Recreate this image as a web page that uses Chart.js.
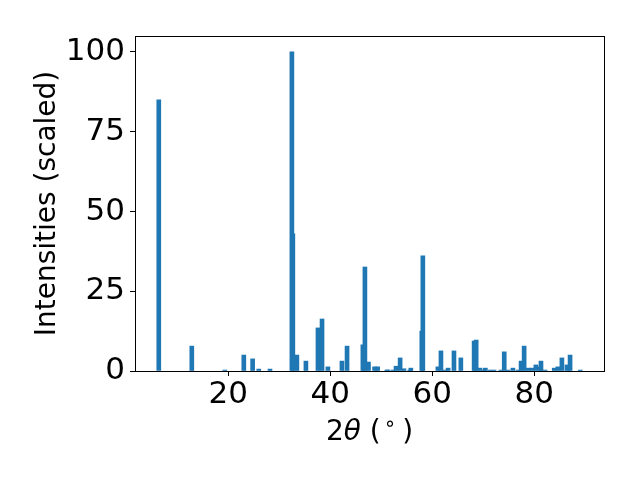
<!DOCTYPE html>
<html>
<head>
<meta charset="utf-8">
<script src="https://cdn.jsdelivr.net/npm/chart.js@4/dist/chart.umd.min.js"></script>
<style>
  body { margin: 0; background: #fff; }
  #wrap { width: 640px; height: 480px; }
</style>
</head>
<body>
<div id="wrap"><canvas id="xrd" width="640" height="480"></canvas></div>
<script>
// peak positions (2theta, degrees) and scaled intensities
// (order = drawing order; the 43 peak sits behind the 100 peak)
const twoTheta = [
  6.41, 12.88, 19.35, 23.07, 24.8, 26.0, 28.2, 32.68, 32.49, 33.47,
  35.24, 37.6, 38.4, 39.55, 42.3, 43.3, 46.4, 46.8, 47.5, 48.7,
  49.3, 51.1, 51.3, 52.3, 52.9, 53.7, 54.45, 55.6, 55.8, 57.95,
  58.15, 61.1, 61.7, 62.5, 63.1, 64.25, 65.6, 68.2, 68.6, 69.35,
  70.1, 70.4, 71.3, 72.1, 73.45, 74.1, 74.85, 75.8, 76.8, 77.4,
  78.0, 78.8, 79.55, 80.3, 81.1, 81.3, 82.1, 83.9, 84.6, 85.4,
  86.4, 87.0, 89.0
];
const intensity = [
  85.0, 7.8, 0.3, 5.0, 3.8, 0.6, 0.6, 43, 100, 5.0,
  3.1, 13.5, 16.3, 1.3, 3.1, 7.8, 8.2, 32.6, 2.8, 1.3,
  1.3, 0.3, 0.3, 0.3, 1.5, 4.1, 0.7, 0.3, 0.9, 12.5,
  36.1, 1.3, 6.3, 0.3, 0.9, 6.3, 4.1, 9.4, 9.7, 0.9,
  0.3, 0.9, 0.3, 0.3, 0.3, 6.0, 0.3, 0.9, 0.3, 3.1,
  7.8, 0.9, 0.9, 1.9, 1.3, 3.1, 0.3, 0.9, 1.3, 4.1,
  1.9, 5.0, 0.3
];
const xTicks = [20, 40, 60, 80];
const yTicks = [0, 25, 50, 75, 100];

const FONT = "'DejaVu Sans', sans-serif";

// frame around the plot + the x label with an italic theta
const framePlugin = {
  id: 'frame',
  afterDraw(chart) {
    const { ctx, chartArea: a } = chart;
    ctx.save();
    ctx.strokeStyle = '#000';
    ctx.lineWidth = 1;
    ctx.strokeRect(Math.round(a.left) + 0.5, Math.round(a.top) + 0.5,
      Math.round(a.right - a.left), Math.round(a.bottom - a.top));

    const parts = [
      { t: '2', f: '28px ' + FONT, dy: 0, gap: 0 },
      { t: 'θ', f: 'italic 28px ' + FONT, dy: 0, gap: 0 },
      { t: ' (', f: '28px ' + FONT, dy: 0, gap: 3 },
      { t: '∘', f: '20px ' + FONT, dy: -10, gap: 6 },
      { t: ')', f: '28px ' + FONT, dy: 0, gap: 0 }
    ];
    let total = 0;
    parts.forEach(p => { ctx.font = p.f; p.w = ctx.measureText(p.t).width; total += p.w + p.gap; });
    let x = (a.left + a.right) / 2 - total / 2;
    const y = 440;
    ctx.fillStyle = '#000';
    ctx.textBaseline = 'alphabetic';
    parts.forEach(p => {
      ctx.font = p.f;
      ctx.fillText(p.t, x, y + p.dy);
      x += p.w + p.gap;
    });
    ctx.restore();
  }
};

const ctx = document.getElementById('xrd').getContext('2d');
new Chart(ctx, {
  type: 'bar',
  data: {
    datasets: [{
      data: twoTheta.map((t, i) => ({ x: t, y: intensity[i] })),
      backgroundColor: '#1f77b4',
      borderWidth: 0,
      barThickness: 4
    }]
  },
  options: {
    responsive: false,
    animation: false,
    devicePixelRatio: 1,
    layout: { padding: { left: 27, right: 36, top: 36, bottom: 31 } },
    plugins: { legend: { display: false }, tooltip: { enabled: false } },
    scales: {
      x: {
        type: 'linear',
        offset: false,
        min: 1.75,
        max: 93.65,
        afterBuildTicks: s => { s.ticks = xTicks.map(v => ({ value: v })); },
        afterFit: s => { s.height = 78; },
        grid: { display: true, offset: false, drawOnChartArea: false, color: '#000', tickLength: 5 },
        border: { display: false },
        ticks: { color: '#000', font: { family: FONT, size: 31 }, padding: 0, maxRotation: 0 },
        title: { display: false }
      },
      y: {
        min: 0,
        max: 105,
        afterBuildTicks: s => { s.ticks = yTicks.map(v => ({ value: v })); },
        afterFit: s => { s.width = 108; },
        grid: { display: true, drawOnChartArea: false, color: '#000', tickLength: 5 },
        border: { display: false },
        ticks: { color: '#000', font: { family: FONT, size: 31 }, padding: 5 },
        title: {
          display: true,
          text: 'Intensities (scaled)',
          color: '#000',
          font: { family: FONT, size: 28 },
          padding: { top: 4, bottom: 2 }
        }
      }
    }
  },
  plugins: [framePlugin]
});
</script>
</body>
</html>
